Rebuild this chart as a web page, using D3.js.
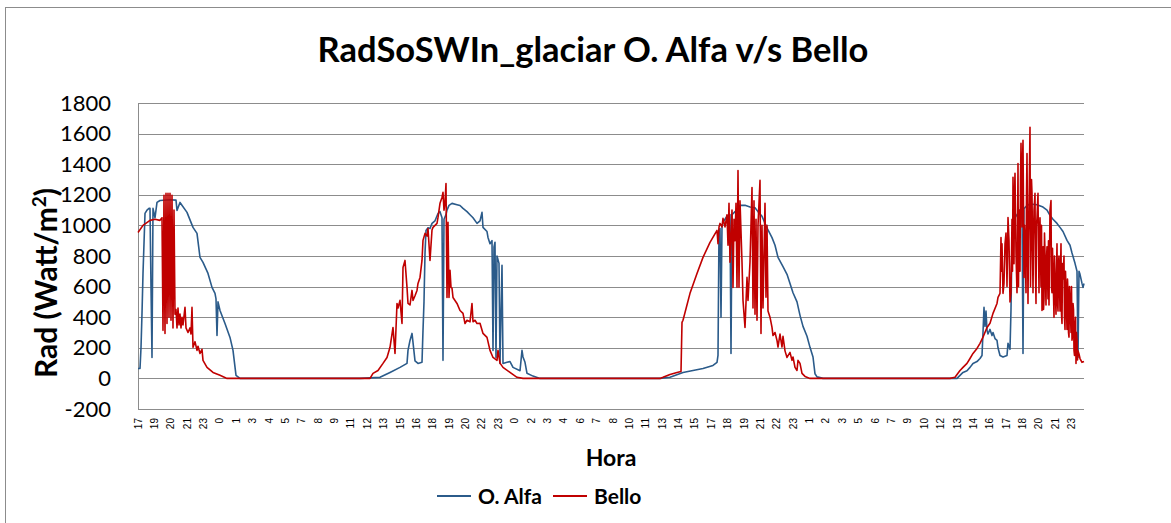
<!DOCTYPE html>
<html>
<head>
<meta charset="utf-8">
<script src="https://cdn.jsdelivr.net/npm/d3@7/dist/d3.min.js"></script>
<style>
  body { margin: 0; background: #fff; }
  svg { display: block; }
  text { font-family: Lato, "Open Sans", sans-serif; fill: #000; }
</style>
</head>
<body>
<div id="chart"></div>
<script>
'use strict';

// [sample, W/m2] -- sample ~5 min steps, 0 = 17:00 of the first day
var alfa = [
  [0,65],[2,65],[3,200],[4,425],[5,686],[7,1078],[9,1100],[11,1111],[12,1111],[13,600],[14,137],[15,1111],
  [17,1050],[19,1150],[22,1163],[32,1168],[38,1165],[39,1098],[42,1150],[49,1085],[55,987],[59,948],
  [62,791],[65,758],[70,686],[74,595],[77,556],[78,520],[79,281],[80,500],[82,444],[87,359],[92,268],
  [95,183],[98,20],[102,0],[160,0],[222,0],
  [242,7],[252,39],[262,72],[269,98],[270,183],[272,248],[274,294],[275,235],[277,115],[280,98],[284,105],
  [285,314],[286,500],[287,817],[288,967],[290,985],[292,980],[294,1013],[297,1030],[300,1078],[302,1090],
  [304,1050],[305,118],[306,1040],[308,1070],[309,1100],[311,1131],[314,1144],[319,1135],[322,1130],
  [325,1111],[329,1090],[332,1070],[335,1050],[339,1013],[342,1030],[344,1085],[345,987],[349,960],
  [350,921],[352,880],[354,900],[355,183],[356,860],[357,890],[358,137],[359,800],[361,752],[362,98],
  [364,740],[365,98],[369,105],[372,110],[375,72],[382,50],[384,183],[385,140],[387,105],[389,33],
  [395,15],[402,0],[460,0],[522,0],
  [532,7],[545,39],[555,52],[565,65],[575,85],[579,105],[580,150],[581,967],[582,980],[583,399],[584,990],
  [585,1020],[587,1040],[589,1060],[592,1070],[593,163],[594,1070],[597,1090],[599,1100],[602,1131],
  [607,1131],[612,1120],[617,1115],[620,1090],[624,1060],[627,1013],[630,970],[634,920],[637,870],
  [640,791],[645,730],[649,680],[652,621],[655,560],[659,500],[662,412],[665,340],[669,275],[672,203],
  [675,140],[677,30],[679,10],[685,0],[750,0],[819,0],
  [822,20],[825,39],[829,50],[832,72],[835,98],[839,110],[842,130],[844,150],[845,300],[846,464],[847,340],
  [848,440],[849,314],[850,290],[852,320],[854,280],[855,300],[857,260],[859,248],[860,200],[862,150],
  [865,140],[869,150],[870,229],[872,190],[873,450],[874,900],[875,1000],[877,1050],[882,1100],[884,1110],
  [885,163],[886,1110],[889,1130],[892,1140],[899,1135],[905,1120],[909,1100],[912,1065],[915,1040],
  [919,1013],[922,987],[925,960],[929,902],[932,870],[934,820],[937,752],[939,700],[940,137],[941,700],
  [942,680],[944,621],[945,595],[946,620]
];

var bello = [
  [0,954],[5,1000],[12,1033],[17,1040],[22,1033],[24,1050],[25,314],[26,1196],[27,294],[28,1209],[29,359],
  [30,1209],[31,400],[32,1209],[33,380],[34,1196],[35,330],[36,1100],[37,420],[38,450],[39,330],[40,460],
  [41,350],[42,420],[43,330],[44,400],[45,350],[47,464],[48,330],[50,300],[52,330],[53,290],[54,464],
  [55,203],[57,240],[59,183],[60,210],[62,163],[64,190],[65,118],[69,72],[75,39],[82,20],[89,0],[160,0],
  [232,0],[235,33],[240,52],[245,98],[249,137],[252,203],[255,333],[257,163],[259,490],[260,460],[262,510],
  [264,359],[265,725],[267,771],[269,595],[270,490],[272,480],[274,575],[275,510],[277,540],[279,575],
  [280,621],[282,660],[284,771],[285,902],[287,948],[289,930],[290,980],[292,771],[294,970],[295,987],
  [297,1000],[299,1013],[300,1052],[302,1144],[304,1183],[305,1216],[306,1100],[307,1150],[308,1274],
  [309,529],[310,1020],[311,529],[312,706],[313,595],[314,590],[315,529],[319,490],[322,444],[325,425],
  [327,359],[329,380],[332,370],[334,490],[335,370],[337,380],[339,359],[342,360],[345,294],[349,268],
  [352,183],[355,137],[359,118],[360,183],[362,100],[365,72],[372,39],[379,7],[385,0],[450,0],
  [522,0],[525,7],[532,26],[539,39],[543,45],[544,366],[545,380],[552,556],[559,686],[565,791],[572,889],
  [579,967],[580,880],[581,990],[582,1013],[584,990],[585,1046],[587,990],[589,1070],[590,870],[591,1144],
  [592,760],[594,1100],[595,595],[596,1040],[597,900],[598,1144],[599,595],[600,1359],[601,595],[602,1160],
  [604,760],[605,510],[607,333],[609,660],[610,510],[612,760],[614,1248],[615,460],[616,1160],[617,420],
  [618,1040],[619,380],[620,1000],[622,1294],[623,294],[624,1000],[625,460],[627,1144],[628,530],[629,1000],
  [630,440],[632,400],[634,333],[635,280],[637,300],[639,248],[640,205],[642,290],[644,205],[645,275],
  [647,180],[649,137],[652,170],[654,118],[655,140],[657,72],[659,52],[660,118],[662,98],[664,33],[667,13],
  [672,0],[740,0],
  [812,0],[817,7],[822,52],[825,72],[829,98],[832,130],[835,163],[839,196],[842,229],[845,270],[849,333],
  [852,360],[855,425],[859,490],[860,530],[862,556],[863,921],[863.5,700],[864,880],[865,556],[866,620],
  [867,880],[868,950],[869,600],[870,1052],[871,900],[872,500],[873,560],[874,1040],[874.5,700],[875,1314],
  [876,750],[876.5,1200],[877,1340],[878,820],[879,560],[879.5,900],[880,1405],[880.5,600],[881,1100],
  [882,700],[882.5,1300],[883,1536],[884,990],[884.5,1400],[885,1556],[886,660],[886.5,1000],[887,921],
  [888,560],[888.5,1200],[889,1470],[890,490],[890.5,900],[891,1100],[892,1641],[892.5,600],[893,860],
  [893.5,1300],[894,1210],[895,560],[895.5,900],[896,1100],[897,1209],[897.5,700],[898,490],[898.5,1000],
  [899,1050],[900,1209],[900.5,850],[901,560],[901.5,950],[902,1050],[903,600],[903.5,1000],[904,444],
  [905,860],[905.5,450],[906,520],[906.5,950],[907,820],[908,480],[908.5,780],[909,860],[910,520],
  [910.5,900],[911,480],[912,1100],[913,1163],[913.5,600],[914,560],[914.5,850],[915,700],[916,399],
  [916.5,800],[917,650],[918,420],[918.5,700],[919,880],[919.5,500],[920,440],[920.5,750],[921,800],
  [922,440],[922.5,700],[923,880],[923.5,420],[924,359],[924.5,750],[925,650],[926,800],[926.5,400],
  [927,320],[927.5,700],[928,600],[928.5,450],[929,320],[929.5,650],[930,560],[930.5,300],[931,270],
  [931.5,600],[932,530],[933,300],[933.5,600],[934,250],[934.5,280],[935,490],[935.5,450],[936,183],
  [936.5,150],[937,340],[937.5,400],[938,98],[938.5,300],[939,250],[939.5,120],[940,180],[941,160],
  [942,130],[944,105],[946,110]
];

var hourLabels = ['17','19','20','21','23','0','1','3','4','5','7','8','9','11','12','13','15','16','18','19','20','22',
  '23','0','2','3','4','6','7','8','10','11','13','14','15','17','18','19','21','22','23','1','2',
  '3','5','6','7','9','10','12','13','14','16','17','18','20','21','23'];
var labelEvery = 16.38;   // samples between category labels
var lastSample = 946;

var yTicks = [-200, 0, 200, 400, 600, 800, 1000, 1200, 1400, 1600, 1800];

var seriesNames = ['O. Alfa', 'Bello'];
var seriesColors = ['#2b5b8a', '#c00000'];

var W = 1171, H = 523;
var margin = {top: 103, right: 87, bottom: 114, left: 138};
var width = W - margin.left - margin.right;
var height = H - margin.top - margin.bottom;

var svg = d3.select('#chart').append('svg').attr('width', W).attr('height', H);

// chart frame (only top and left are inside the picture)
svg.append('rect').attr('x', 5.5).attr('y', 7.5).attr('width', 1300).attr('height', 700)
  .attr('fill', 'none').attr('stroke', '#8c8c8c').attr('stroke-width', 1);

var g = svg.append('g').attr('transform', 'translate(' + margin.left + ',' + margin.top + ')');

var x = d3.scaleLinear().domain([0, lastSample]).range([0, width]);
var y = d3.scaleLinear().domain([-200, 1800]).range([height, 0]);

// gridlines
g.selectAll('.grid').data(yTicks).enter().append('line')
  .attr('x1', 0).attr('x2', width)
  .attr('y1', function(d) { return Math.round(y(d)) + 0.5; })
  .attr('y2', function(d) { return Math.round(y(d)) + 0.5; })
  .attr('stroke', '#8c8c8c').attr('stroke-width', 1);

// value axis
var yAxis = g.append('g').call(d3.axisLeft(y).tickValues(yTicks).tickSize(0).tickPadding(27)
  .tickFormat(function(d) { return String(d); }));
yAxis.select('.domain').attr('stroke', '#8c8c8c');
yAxis.selectAll('text').style('font-family', 'Lato, sans-serif').style('font-size', '22px').attr('fill', '#000');

// category labels
var tickPos = hourLabels.map(function(d, i) { return i * labelEvery; });
g.selectAll('.xl').data(hourLabels).enter().append('text')
  .attr('transform', function(d, i) { return 'translate(' + (x(tickPos[i]) + 3.5) + ',' + (height + 9) + ') rotate(-90)'; })
  .attr('text-anchor', 'end')
  .style('font-family', '"Liberation Sans", Arial, sans-serif')
  .style('font-size', '10px')
  .text(function(d) { return d; });

// series
var line = d3.line()
  .x(function(d) { return x(d[0]); })
  .y(function(d) { return y(d[1]); });

[alfa, bello].forEach(function(data, i) {
  g.append('path').datum(data)
    .attr('d', line)
    .attr('fill', 'none')
    .attr('stroke', seriesColors[i])
    .attr('stroke-width', 1.6)
    .attr('stroke-linejoin', 'round');
});

function fitText(sel, target) {
  var len = sel.node().getComputedTextLength();
  var fs = parseFloat(sel.style('font-size'));
  sel.style('font-size', (fs * target / len) + 'px');
}

// title
var title = svg.append('text').attr('x', 593).attr('y', 62).attr('text-anchor', 'middle')
  .style('font-weight', 'bold').style('font-size', '28px')
  .text('RadSoSWIn_glaciar O. Alfa v/s Bello');
fitText(title, 551);

// y axis title
var yt = svg.append('text').attr('transform', 'translate(57,283) rotate(-90)')
  .attr('text-anchor', 'middle').style('font-weight', 'bold').style('font-size', '30px');
yt.append('tspan').text('Rad (Watt/m');
yt.append('tspan').attr('baseline-shift', 'super').style('font-size', '19px').text('2');
yt.append('tspan').text(')');

// x axis title
svg.append('text').attr('x', margin.left + width / 2).attr('y', 466).attr('text-anchor', 'middle')
  .style('font-weight', 'bold').style('font-size', '23px').text('Hora');

// legend
var legend = svg.append('g').attr('transform', 'translate(437,496)');
var item = legend.selectAll('g').data(seriesNames).enter().append('g')
  .attr('transform', function(d, i) { return 'translate(' + (i * 116) + ',0)'; });
item.append('line').attr('x1', 0).attr('x2', 34).attr('y1', 0).attr('y2', 0)
  .attr('stroke', function(d, i) { return seriesColors[i]; }).attr('stroke-width', 2);
item.append('text').attr('x', 41).attr('y', 7.5)
  .style('font-weight', 'bold').style('font-size', '21px').text(function(d) { return d; });
</script>
</body>
</html>
